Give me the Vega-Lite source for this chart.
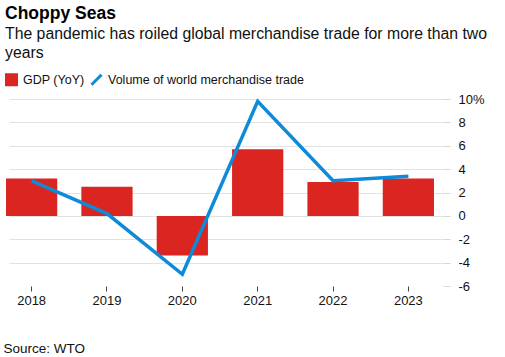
{
  "$schema": "https://vega.github.io/schema/vega-lite/v6.json",
  "width": 434,
  "height": 187,
  "autosize": "none",
  "padding": {"left": 3, "top": 99, "right": 68, "bottom": 71},
  "config": {
    "font": "Liberation Sans",
    "view": {"stroke": null},
    "axisY": {
      "orient": "right",
      "labelOverlap": false,
      "title": null,
      "domain": false,
      "grid": true,
      "gridWidth": 1,
      "tickColor": "#d8d8d8",
      "tickSize": 7,
      "offset": 6,
      "labelPadding": 8,
      "labelFontSize": 13,
      "labelColor": "#111",
      "labelAlign": "left"
    },
    "legend": {
      "orient": "none",
      "legendX": 2,
      "legendY": -26,
      "direction": "horizontal",
      "labelFontSize": 12.5,
      "labelColor": "#111",
      "labelLimit": 400,
      "symbolSize": 100,
      "labelOffset": 5,
      "columnPadding": 0,
      "title": null
    }
  },
  "title": {
    "text": "Choppy Seas",
    "subtitle": ["The pandemic has roiled global merchandise trade for more than two", "years"],
    "anchor": "start",
    "frame": "group",
    "dx": 2,
    "fontSize": 17.5,
    "fontWeight": "bold",
    "color": "#000",
    "subtitleFontSize": 15.8,
    "subtitleColor": "#111",
    "subtitleLineHeight": 19,
    "subtitlePadding": 5,
    "offset": 12
  },
  "data": {
    "values": [
      {"year": "2018", "gdp": 3.2, "trade": 3.0},
      {"year": "2019", "gdp": 2.5, "trade": 0.2},
      {"year": "2020", "gdp": -3.4, "trade": -5.0},
      {"year": "2021", "gdp": 5.7, "trade": 9.8},
      {"year": "2022", "gdp": 2.9, "trade": 3.0},
      {"year": "2023", "gdp": 3.2, "trade": 3.4}
    ]
  },
  "encoding": {
    "x": {
      "field": "year",
      "type": "ordinal",
      "scale": {"paddingInner": 0.32, "paddingOuter": 0.04},
      "axis": {
        "labelAngle": 0,
        "labelFontSize": 13,
        "labelColor": "#111",
        "tickColor": "#444",
        "tickSize": 5,
        "labelPadding": 3,
        "domain": false,
        "title": "Source: WTO",
        "titleFontSize": 13.5,
        "titleFontWeight": "normal",
        "titleColor": "#111",
        "titleAnchor": "start",
        "titleAlign": "left",
        "titlePadding": 34
      }
    }
  },
  "layer": [
    {
      "mark": {"type": "bar", "color": "#da2520"},
      "encoding": {
        "y": {
          "field": "gdp",
          "type": "quantitative",
          "scale": {"domain": [-6, 10], "nice": false},
          "axis": {
            "orient": "right",
            "values": [-6, -4, -2, 0, 2, 4, 6, 8, 10],
            "labelExpr": "datum.value == 10 ? '\u00a0\u00a0\u200910%' : (datum.value < 0 ? '-' + abs(datum.value) : '' + datum.value)",
            "gridColor": {"condition": {"test": "datum.value == -6", "value": "transparent"}, "value": "#e2e2e2"}
          }
        },
        "color": {
          "datum": "GDP (YoY)",
          "type": "nominal",
          "scale": {"domain": ["GDP (YoY)", "Volume of world merchandise trade"], "range": ["#da2520", "#0d8ad8"]},
          "legend": {
            "symbolType": "square",
            "encode": {
              "symbols": {
                "update": {
                  "shape": {"signal": "datum.value == 'GDP (YoY)' ? 'square' : 'M-1,1L1,-1'"},
                  "fill": {"signal": "datum.value == 'GDP (YoY)' ? '#da2520' : 'transparent'"},
                  "stroke": {"signal": "datum.value == 'GDP (YoY)' ? 'transparent' : '#0d8ad8'"},
                  "strokeWidth": {"value": 3}
                }
              }
            }
          }
        }
      }
    },
    {
      "mark": {"type": "rule", "color": "#777", "strokeWidth": 1},
      "encoding": {
        "y": {
          "datum": 0,
          "type": "quantitative",
          "axis": {
            "orient": "right",
            "values": [-6, -4, -2, 0, 2, 4, 6, 8, 10],
            "labelExpr": "datum.value == 10 ? '\u00a0\u00a0\u200910%' : (datum.value < 0 ? '-' + abs(datum.value) : '' + datum.value)",
            "gridColor": {"condition": {"test": "datum.value == -6", "value": "transparent"}, "value": "#e2e2e2"}
          }
        }
      }
    },
    {
      "mark": {"type": "line", "strokeWidth": 3.5, "strokeJoin": "miter"},
      "encoding": {
        "y": {
          "field": "trade",
          "type": "quantitative",
          "axis": {
            "orient": "right",
            "values": [-6, -4, -2, 0, 2, 4, 6, 8, 10],
            "labelExpr": "datum.value == 10 ? '\u00a0\u00a0\u200910%' : (datum.value < 0 ? '-' + abs(datum.value) : '' + datum.value)",
            "gridColor": {"condition": {"test": "datum.value == -6", "value": "transparent"}, "value": "#e2e2e2"}
          }
        },
        "color": {"datum": "Volume of world merchandise trade", "type": "nominal"}
      }
    }
  ]
}
